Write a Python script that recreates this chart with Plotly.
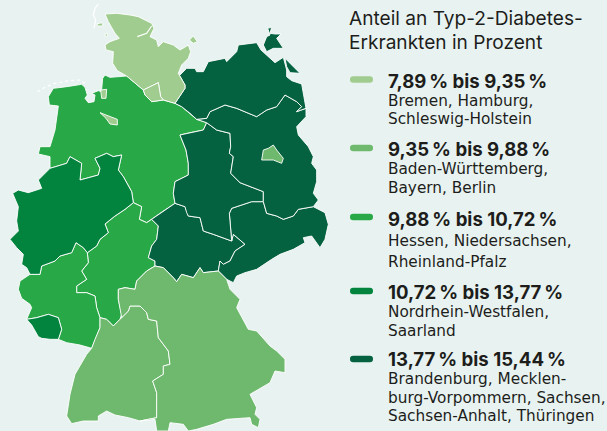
import plotly.graph_objects as go

# Map outlines (unit = 1/3 pixel)
schleswig_holstein = [(315,42),(350,40),(390,45),(415,50),(455,70),(462,85),(450,110),(470,120),(475,140),(490,125),(520,135),(540,150),(565,135),(572,155),(565,175),(545,195),(535,220),(555,255),(555,265),(525,310),(490,300),(482,290),(475,248),(430,270),(380,228),(352,212),(338,190),(340,155),(318,150),(315,135),(330,125),(358,115),(345,100),(325,65)]
fehmarn = [(568,120),(580,108),(592,125),(580,130)]
foehr = [(290,72),(305,68),(310,78),(295,78)]
pellworm = [(312,105),(322,100),(322,110)]
hamburg = [(430,270),(475,248),(482,290),(490,300),(455,305),(435,285)]
bremen = [(300,338),(325,348),(352,358),(352,375),(330,372),(318,355)]
bremerhaven = [(302,270),(320,268),(318,295),(305,295)]
niedersachsen = [(315,225),(330,232),(380,228),(430,270),(435,285),(455,305),(490,300),(525,310),(545,320),(570,340),(590,358),(620,368),(610,390),(570,398),(540,405),(558,450),(565,490),(565,525),(525,545),(520,580),(525,610),(490,633),(455,658),(440,668),(418,658),(425,620),(400,608),(395,575),(370,530),(355,510),(365,465),(340,470),(320,460),(285,475),(300,505),(295,525),(240,540),(245,490),(210,470),(200,490),(150,505),(150,470),(115,462),(120,440),(150,440),(165,390),(175,318),(148,315),(145,290),(160,265),(200,260),(245,253),(255,262),(262,285),(255,295),(265,308),(282,305),(285,285),(275,280),(295,272),(305,275),(305,268),(308,235)]
nrw = [(38,580),(55,570),(85,578),(125,565),(115,540),(150,505),(200,490),(210,470),(245,490),(240,540),(295,525),(300,505),(285,475),(320,460),(340,470),(365,465),(355,510),(370,530),(395,575),(400,608),(375,628),(345,648),(315,672),(325,698),(300,718),(290,738),(262,758),(250,743),(228,728),(215,758),(180,768),(165,783),(125,798),(120,823),(90,823),(80,803),(65,793),(70,763),(50,743),(30,718),(55,693),(50,663),(55,620)]
hessen = [(345,648),(375,628),(400,608),(425,620),(418,658),(440,668),(455,658),(475,678),(470,718),(455,738),(445,773),(465,783),(465,798),(440,813),(410,843),(405,868),(375,863),(355,868),(355,898),(365,943),(360,958),(340,978),(320,958),(300,953),(290,923),(285,888),(260,878),(230,878),(230,858),(260,838),(245,813),(265,788),(262,758),(290,738),(300,718),(325,698),(315,672)]
rheinland_pfalz = [(228,728),(250,743),(262,758),(265,788),(245,813),(260,838),(230,858),(230,878),(260,878),(285,888),(290,923),(300,953),(300,983),(285,1018),(275,1045),(240,1035),(200,1028),(175,1018),(185,988),(175,953),(145,943),(110,953),(80,958),(95,923),(90,913),(65,895),(55,868),(60,843),(90,823),(120,823),(125,798),(165,783),(180,768),(215,758)]
saarland = [(80,958),(110,953),(145,943),(175,953),(185,988),(175,1018),(150,1018),(125,1015),(115,1010),(95,975)]
baden_wuerttemberg = [(300,953),(320,958),(340,978),(360,958),(365,953),(385,933),(390,918),(420,918),(440,938),(445,958),(470,963),(475,1013),(505,1053),(510,1093),(490,1098),(490,1123),(458,1143),(470,1178),(470,1253),(420,1263),(385,1253),(345,1245),(320,1233),(295,1248),(295,1263),(250,1263),(215,1271),(200,1248),(210,1183),(225,1123),(260,1063),(275,1045),(285,1018),(300,983)]
bayern = [(465,798),(490,803),(520,833),(530,845),(545,823),(580,833),(600,803),(610,818),(655,813),(680,838),(690,868),(720,898),(710,923),(730,963),(745,988),(770,993),(810,1038),(830,1053),(855,1078),(855,1118),(825,1113),(810,1148),(750,1183),(770,1223),(765,1243),(780,1258),(775,1283),(755,1273),(750,1253),(680,1258),(640,1273),(590,1288),(565,1293),(550,1273),(510,1268),(505,1293),(470,1293),(465,1258),(420,1263),(470,1253),(470,1178),(458,1143),(490,1123),(490,1098),(510,1093),(505,1053),(475,1013),(470,963),(445,958),(440,938),(420,918),(390,918),(385,933),(365,953),(355,898),(355,868),(375,863),(405,868),(410,843),(440,813)]
thueringen = [(455,658),(490,633),(525,610),(555,620),(560,638),(565,648),(600,653),(610,693),(640,703),(695,723),(700,703),(735,733),(705,753),(690,783),(670,793),(660,783),(655,813),(610,818),(600,803),(580,833),(545,823),(530,845),(520,833),(490,803),(465,798),(465,783),(445,773),(455,738),(470,718),(475,678)]
sachsen = [(690,663),(688,640),(695,625),(755,605),(790,605),(800,640),(830,648),(850,658),(880,648),(895,628),(940,620),(975,638),(985,673),(975,718),(960,743),(945,723),(935,708),(910,713),(915,728),(880,748),(840,763),(815,778),(770,808),(735,818),(710,828),(700,848),(680,838),(655,813),(660,783),(670,793),(690,783),(705,753),(735,733),(700,703),(695,723)]
sachsen_anhalt = [(620,368),(650,390),(690,400),(692,440),(688,460),(700,470),(692,520),(720,548),(790,575),(790,605),(755,605),(695,625),(688,640),(690,663),(695,723),(640,703),(610,693),(600,653),(565,648),(560,638),(555,620),(525,610),(520,580),(525,545),(565,525),(565,490),(558,450),(540,405),(570,398),(610,390)]
brandenburg = [(590,358),(620,355),(630,335),(675,315),(710,325),(770,350),(800,330),(830,320),(855,285),(890,305),(905,320),(890,335),(918,325),(918,350),(890,380),(895,405),(925,440),(940,470),(935,490),(950,510),(950,545),(940,580),(955,600),(940,620),(895,628),(880,648),(850,658),(830,648),(800,640),(790,605),(790,575),(720,548),(692,520),(700,470),(688,460),(692,440),(690,400),(650,390),(620,368)]
berlin = [(785,480),(790,450),(805,445),(820,435),(830,450),(850,475),(845,490),(820,480)]
mecklenburg = [(525,310),(555,265),(555,255),(535,220),(540,225),(560,205),(585,205),(590,215),(610,215),(625,185),(675,175),(680,185),(710,155),(715,135),(770,128),(783,150),(825,188),(850,172),(860,210),(860,230),(875,242),(905,252),(915,300),(918,325),(890,335),(905,320),(890,305),(855,285),(830,320),(800,330),(770,350),(710,325),(675,315),(630,335),(620,355),(590,358),(570,340),(545,320)]
ruegen = [(790,135),(800,110),(810,105),(803,85),(815,82),(810,100),(825,102),(843,102),(830,115),(840,130),(850,145),(820,145),(800,155)]
usedom = [(855,175),(870,190),(900,220),(870,218),(860,200)]
sylt = [(295,12),(285,25),(280,45),(287,60),(282,85)]
schlei = [(412,110),(440,100),(455,78)]
frisian_islands = [(112,275),(135,262),(165,250),(205,242),(240,240),(255,250)]

band_colors = ["#a0cd8f", "#6eb96e", "#28a846", "#03843e", "#046240"]
band_regions = [
    [schleswig_holstein, fehmarn, foehr, pellworm, hamburg, bremen, bremerhaven],
    [baden_wuerttemberg, bayern, berlin],
    [niedersachsen, hessen, rheinland_pfalz],
    [nrw, saarland],
    [thueringen, sachsen, sachsen_anhalt, brandenburg, mecklenburg, ruegen, usedom],
]

title_lines = ["Anteil an Typ-2-Diabetes-", "Erkrankten in Prozent"]
title_y = [18, 42]
band_labels = ["7,89\u2009% bis 9,35\u2009%", "9,35\u2009% bis 9,88\u2009%", "9,88\u2009% bis 10,72\u2009%",
               "10,72\u2009% bis 13,77\u2009%", "13,77\u2009% bis 15,44\u2009%"]
band_y = [80.5, 148.5, 218.5, 291.5, 358.5]
swatch_y = [79.5, 148, 217, 291, 359]
state_lines = ["Bremen, Hamburg,", "Schleswig-Holstein", "Baden-Württemberg,", "Bayern, Berlin",
               "Hessen, Niedersachsen,", "Rheinland-Pfalz", "Nordrhein-Westfalen,", "Saarland",
               "Brandenburg, Mecklen-", "burg-Vorpommern, Sachsen,", "Sachsen-Anhalt, Thüringen"]
state_y = [101.2, 119.4, 169.2, 188.2, 241, 262, 312.2, 331, 379.2, 397.6, 416]

BG = "#e8f3f1"
TEXT = "#1d1d1b"
FONT = "Inter"
BODY_FONT = "DejaVu Sans"
U = 3  # grid units per pixel

fig = go.Figure()
order = [2, 3, 4, 1, 0]
for b in order:
    for poly in band_regions[b]:
        xs = [p[0] for p in poly] + [poly[0][0]]
        ys = [p[1] for p in poly] + [poly[0][1]]
        fig.add_trace(go.Scatter(x=xs, y=ys, mode="lines", fill="toself", fillcolor=band_colors[b],
                                 line=dict(color="white", width=0.9), hoverinfo="skip", showlegend=False))
for line, dash in ((sylt, "solid"), (schlei, "solid"), (frisian_islands, "dot")):
    fig.add_trace(go.Scatter(x=[p[0] for p in line], y=[p[1] for p in line], mode="lines",
                             line=dict(color="white", width=1.2, dash=dash), hoverinfo="skip", showlegend=False))

shapes = []
for c, y in zip(band_colors, swatch_y):
    x0, x1, r = 350 * U, 373 * U, 3.2 * U
    yc = y * U
    path = (f"M {x0+r} {yc-r} L {x1-r} {yc-r} Q {x1} {yc-r} {x1} {yc} Q {x1} {yc+r} {x1-r} {yc+r} "
            f"L {x0+r} {yc+r} Q {x0} {yc+r} {x0} {yc} Q {x0} {yc-r} {x0+r} {yc-r} Z")
    shapes.append(dict(type="path", path=path, fillcolor=c, line=dict(width=0), xref="x", yref="y"))

annotations = []
def add_text(txt, x, y, size, family=FONT):
    annotations.append(dict(text=txt, x=x * U, y=y * U, xref="x", yref="y", xanchor="left", yanchor="middle",
                            showarrow=False, align="left", xshift=-1,
                            font=dict(family=family, size=size, color=TEXT)))
for t, y in zip(title_lines, title_y):
    add_text(t, 348, y, 19.1)
for t, y in zip(band_labels, band_y):
    add_text(f"<b>{t}</b>", 386.5, y, 18.6)
for t, y in zip(state_lines, state_y):
    add_text(t, 386.5, y, 15.3, BODY_FONT)

fig.update_layout(
    width=607, height=431, autosize=False,
    margin=dict(l=0, r=0, t=0, b=0),
    paper_bgcolor=BG, plot_bgcolor=BG,
    xaxis=dict(range=[0, 607 * U], visible=False, fixedrange=True),
    yaxis=dict(range=[431 * U, 0], visible=False, fixedrange=True),
    shapes=shapes, annotations=annotations, showlegend=False,
)
fig.write_html("out.html", config={"displayModeBar": False},
               post_script="document.body.style.margin='0';document.body.style.overflow='hidden';document.documentElement.style.background='%s';" % BG)
